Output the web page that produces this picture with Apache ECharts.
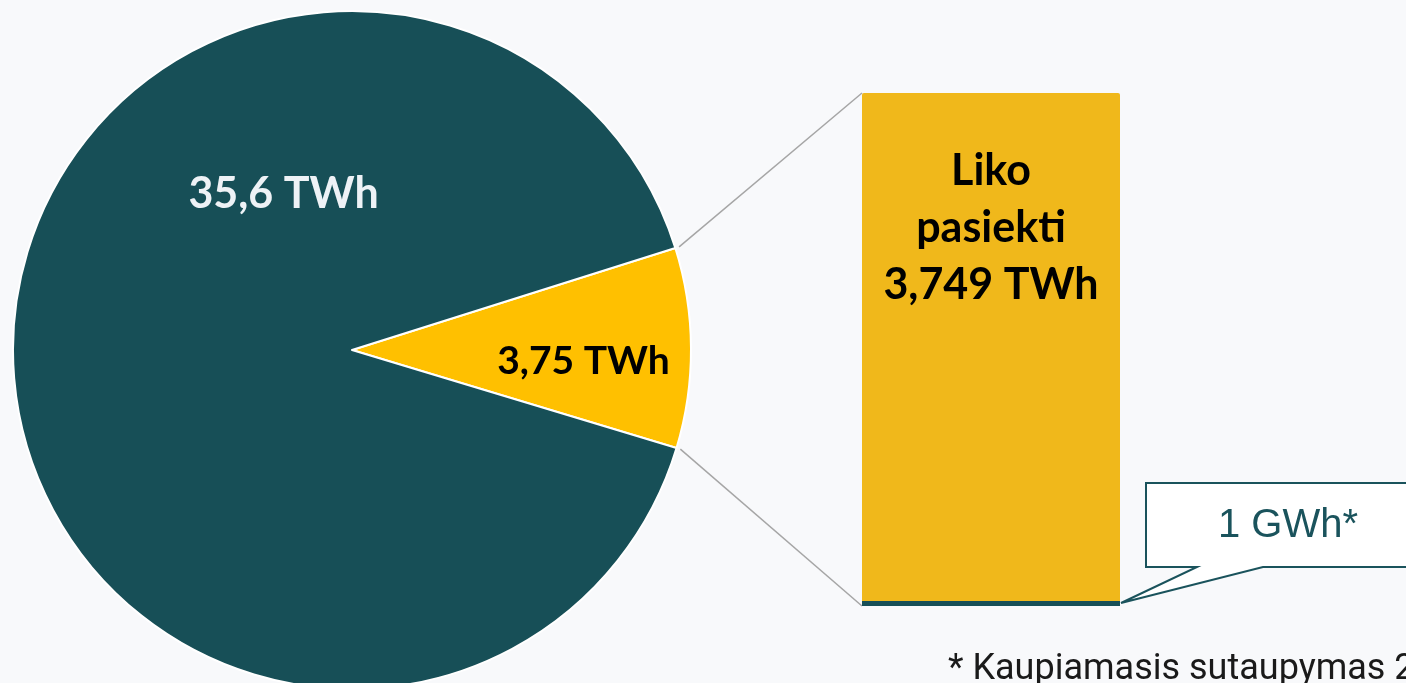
<!DOCTYPE html>
<html>
<head>
<meta charset="UTF-8">
<title>Liko pasiekti</title>
<script src="https://cdn.jsdelivr.net/npm/echarts@6/dist/echarts.min.js"></script>
<style>
    html, body { margin: 0; padding: 0; overflow: hidden; background: #f8f9fb; }
    #chart { width: 1406px; height: 683px; }
</style>
</head>
<body>
<div id="chart"></div>
<script>
    // pie: yellow slice first so it sits at 3 o'clock
    const pieNames = ['Liko pasiekti', 'Pasiekta'];
    const pieValues = [3.75, 35.6];
    const pieLabels = ['3,75 TWh', '35,6 TWh'];

    // zoomed bar (TWh)
    const barCategories = ['Liko'];
    const barSaved = [0.001];     // 1 GWh
    const barLeft = [3.749];
    const barLabel = 'Liko\npasiekti\n3,749 TWh';
    const calloutText = '1 GWh*';
    const footnote = '* Kaupiamasis sutaupymas 2023 m.';

    const DARK = '#174f57';
    const PIE_C = [352, 350];
    const PIE_R = 339;
    const START = 17.5;
    const BAR_W = 258;

    const chart = echarts.init(document.getElementById('chart'));

    const pieColors = ['#ffc000', DARK];
    // nudges from the default "inside" spot (seems to get applied twice, so halved)
    const labelShift = [[29.5, 6], [52, -78.5]];

    const option = {
        backgroundColor: '#f8f9fb',
        animation: false,
        grid: { left: 862, width: BAR_W, top: 93, bottom: 77 },
        xAxis: { type: 'category', data: barCategories, show: false },
        yAxis: { type: 'value', min: 0, max: barSaved[0] + barLeft[0], show: false },
        series: [
            {
                type: 'pie',
                center: PIE_C,
                radius: PIE_R,
                startAngle: START,
                avoidLabelOverlap: false,
                silent: true,
                itemStyle: { borderColor: '#ffffff', borderWidth: 2 },
                label: {
                    show: true,
                    position: 'inside',
                    fontFamily: 'Lato',
                    fontWeight: 'bold',
                    formatter: p => pieLabels[p.dataIndex]
                },
                labelLine: { show: false },
                labelLayout: p => ({ dx: labelShift[p.dataIndex][0], dy: labelShift[p.dataIndex][1] }),
                data: pieValues.map((v, i) => ({
                    name: pieNames[i],
                    value: v,
                    itemStyle: { color: pieColors[i] },
                    label: i === 0
                        ? { color: '#000000', fontSize: 39 }
                        : { color: '#eef2f6', fontSize: 43 }
                }))
            },
            {
                type: 'bar',
                stack: 'zoom',
                z: 3,
                barWidth: BAR_W,
                barMinHeight: 5,
                silent: true,
                itemStyle: { color: DARK },
                data: barSaved
            },
            {
                type: 'bar',
                stack: 'zoom',
                barWidth: BAR_W,
                silent: true,
                itemStyle: { color: '#f0b81b', borderRadius: [2, 2, 0, 0] },
                label: {
                    show: true,
                    position: 'insideTop',
                    distance: 50,
                    formatter: barLabel,
                    color: '#000000',
                    fontFamily: 'Lato',
                    fontWeight: 'bold',
                    fontSize: 43,
                    lineHeight: 57
                },
                data: barLeft
            }
        ]
    };
    chart.setOption(option);

    // connectors from the yellow slice edges to the bar corners
    const total = pieValues.reduce((a, b) => a + b, 0);
    const aTop = START * Math.PI / 180;
    const aBot = (START - 360 * pieValues[0] / total) * Math.PI / 180;
    const edge = (a, r) => [PIE_C[0] + r * Math.cos(a), PIE_C[1] - r * Math.sin(a)];
    const xc = chart.convertToPixel({ xAxisIndex: 0 }, barCategories[0]);
    const yTop = chart.convertToPixel({ yAxisIndex: 0 }, barSaved[0] + barLeft[0]);
    const yBot = chart.convertToPixel({ yAxisIndex: 0 }, 0);
    const bl = xc - BAR_W / 2, br = xc + BAR_W / 2;
    const p0 = edge(aTop, PIE_R + 4), p1 = edge(aBot, PIE_R + 4);

    const tx = br + 1, ty = yBot - 3;
    const boxL = tx + 25, boxT = ty - 120, boxB = ty - 36, boxR = tx + 420;

    chart.setOption({
        graphic: [
            {
                type: 'line', silent: true,
                shape: { x1: p0[0], y1: p0[1], x2: bl, y2: yTop },
                style: { stroke: '#a6a6a6', lineWidth: 1.5 }
            },
            {
                type: 'line', silent: true,
                shape: { x1: p1[0], y1: p1[1], x2: bl, y2: yBot },
                style: { stroke: '#a6a6a6', lineWidth: 1.5 }
            },
            {
                type: 'polygon', silent: true,
                shape: {
                    points: [
                        [boxL, boxT], [boxR, boxT], [boxR, boxB],
                        [tx + 142, boxB], [tx, ty], [tx + 76, boxB], [boxL, boxB]
                    ]
                },
                style: { fill: '#ffffff', stroke: '#1a535c', lineWidth: 2 }
            },
            {
                type: 'text', silent: true,
                style: {
                    text: calloutText, x: tx + 167, y: ty - 77,
                    fill: '#1a535c', fontSize: 40, fontFamily: 'Liberation Sans',
                    align: 'center', verticalAlign: 'middle'
                }
            },
            {
                type: 'text', silent: true,
                style: {
                    text: footnote, x: 948, y: 670,
                    fill: '#1a1a1a', fontSize: 36, fontFamily: 'Roboto',
                    align: 'left', verticalAlign: 'middle'
                }
            }
        ]
    });
</script>
</body>
</html>
